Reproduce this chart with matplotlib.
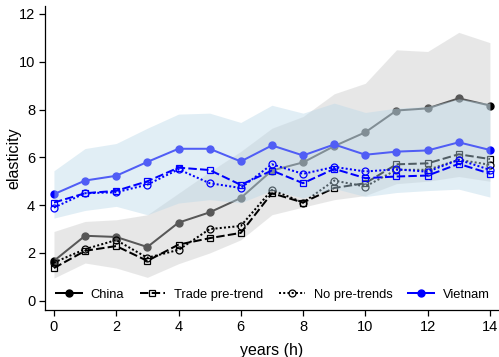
import numpy as np
import matplotlib
matplotlib.use("Agg")
import matplotlib.pyplot as plt
from matplotlib.lines import Line2D

plt.rcParams["font.family"] = ["Liberation Sans", "DejaVu Sans"]

horizons = np.arange(15)

# China
china = [1.67, 2.72, 2.67, 2.25, 3.27, 3.70, 4.30, 5.45, 5.79, 6.47, 7.05, 7.96, 8.05, 8.47, 8.17]
china_lo = [0.95, 1.58, 1.37, 0.98, 1.55, 2.00, 2.55, 3.60, 3.92, 4.23, 4.40, 4.90, 5.00, 5.20, 5.00]
china_hi = [2.90, 3.32, 3.39, 3.60, 4.50, 5.40, 6.25, 7.22, 7.71, 8.66, 9.10, 10.50, 10.43, 11.23, 10.80]
china_trade = [1.37, 2.09, 2.29, 1.67, 2.35, 2.62, 2.84, 4.50, 4.11, 4.72, 4.92, 5.71, 5.75, 6.13, 5.93]
china_nopre = [1.60, 2.16, 2.54, 1.80, 2.13, 3.00, 3.13, 4.64, 4.11, 5.03, 4.78, 5.48, 5.48, 5.90, 5.69]

# Vietnam
vietnam = [4.46, 5.03, 5.23, 5.81, 6.36, 6.36, 5.83, 6.50, 6.08, 6.54, 6.11, 6.24, 6.29, 6.63, 6.31]
vietnam_lo = [3.46, 3.78, 3.95, 3.60, 4.09, 4.23, 4.10, 4.62, 4.30, 4.70, 4.36, 4.53, 4.61, 4.67, 4.34]
vietnam_hi = [5.44, 6.37, 6.58, 7.22, 7.81, 7.85, 7.46, 8.18, 7.85, 8.27, 7.88, 8.06, 8.13, 8.45, 8.25]
vietnam_trade = [4.11, 4.50, 4.60, 5.00, 5.57, 5.47, 4.85, 5.45, 4.92, 5.52, 5.13, 5.20, 5.24, 5.73, 5.32]
vietnam_nopre = [3.90, 4.50, 4.54, 4.86, 5.50, 4.92, 4.72, 5.71, 5.31, 5.60, 5.41, 5.50, 5.40, 5.90, 5.48]

china_band = (202/255, 202/255, 202/255)
vietnam_band = (186/255, 216/255, 233/255)
blue = "#0000ff"

solid = dict(lw=1.45, marker="o", ms=5)
dashed = dict(lw=1.45, ls=(0, (4.2, 1.6)), marker="s", ms=5, mfc="none", mew=0.9)
dotted = dict(lw=1.45, ls=(0, (1, 1.1)), marker="o", ms=5, mfc="none", mew=0.9)

fig = plt.figure(figsize=(4.99, 3.57), dpi=100)
ax = fig.add_axes([0.090, 0.132, 0.908, 0.851])

# layer order: baseline line, its band, robustness lines on top
ax.plot(horizons, china, color="black", zorder=1, **solid)
ax.fill_between(horizons, china_lo, china_hi, color=china_band, alpha=0.435, lw=0, zorder=2)
ax.plot(horizons, china_trade, color="black", zorder=3, **dashed)
ax.plot(horizons, china_nopre, color="black", zorder=3, **dotted)

ax.plot(horizons, vietnam, color=blue, zorder=4, **solid)
ax.fill_between(horizons, vietnam_lo, vietnam_hi, color=vietnam_band, alpha=0.43, lw=0, zorder=5)
ax.plot(horizons, vietnam_trade, color=blue, zorder=6, **dashed)
ax.plot(horizons, vietnam_nopre, color=blue, zorder=6, **dotted)

ax.set_xlim(-0.29, 14.26)
ax.set_ylim(-0.38, 12.33)
ax.set_xticks(np.arange(0, 15, 2))
ax.set_yticks(np.arange(0, 13, 2))
ax.tick_params(direction="out", length=4, width=0.9, labelsize=10.5, colors="black", pad=3)
for side in ("top", "right"):
    ax.spines[side].set_visible(False)
for side in ("left", "bottom"):
    ax.spines[side].set_linewidth(0.9)

ax.set_xlabel("years (h)", fontsize=11.5, labelpad=7)
ax.set_ylabel("elasticity", fontsize=11.5)
ax.yaxis.set_label_coords(-0.052, 0.5)

handles = [
    Line2D([], [], color="black", **solid),
    Line2D([], [], color="black", **dashed),
    Line2D([], [], color="black", **dotted),
    Line2D([], [], color=blue, **solid),
]
labels = ["China", "Trade pre-trend", "No pre-trends", "Vietnam"]
leg = ax.legend(handles, labels, loc="lower center", bbox_to_anchor=(0.503, 0.0), ncol=4,
                frameon=False, fontsize=9.3, handlelength=2.0, handletextpad=0.7,
                columnspacing=1.2, numpoints=1, borderaxespad=0.3)
leg.set_zorder(10)

fig.savefig("out.png", dpi=100)
